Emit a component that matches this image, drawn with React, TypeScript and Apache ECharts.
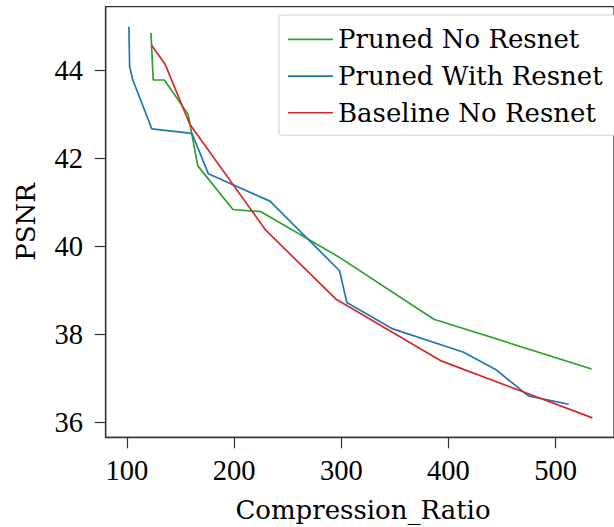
import React, { useEffect, useRef } from "react";
import * as echarts from "echarts";

const seriesNames = ["Pruned No Resnet", "Pruned With Resnet", "Baseline No Resnet"];

const prunedNoResnetX = [122.4, 124.5, 134.9, 157.1, 166.1, 198.9, 225.1, 297.2, 386.4, 533.6];
const prunedNoResnetY = [44.85, 43.78, 43.78, 43.0, 41.83, 40.84, 40.79, 39.77, 38.35, 37.22];

const prunedWithResnetX = [101.8, 102.5, 105.5, 123.2, 160.6, 176.0, 233.4, 298.4, 305.2, 348.0, 414.2, 444.0, 474.5, 512.2];
const prunedWithResnetY = [44.99, 44.08, 43.78, 42.67, 42.57, 41.65, 41.03, 39.45, 38.73, 38.13, 37.6, 37.21, 36.61, 36.42];

const baselineNoResnetX = [123.0, 135.6, 158.5, 229.5, 294.8, 392.5, 534.3];
const baselineNoResnetY = [44.57, 44.14, 42.78, 40.37, 38.81, 37.41, 36.11];

const xTicks = [100, 200, 300, 400, 500];
const yTicks = [36, 38, 40, 42, 44];

const colors = ["#2ca02c", "#1f77b4", "#d62728"];

function zip(xs: number[], ys: number[]) {
  return xs.map((x, i) => [x, ys[i]]);
}

export default function App() {
  const ref = useRef<HTMLDivElement>(null);
  useEffect(() => {
    if (!ref.current) return;
    const chart = echarts.init(ref.current, null, { renderer: "svg" });
    const tickFont = "'Liberation Serif', 'Times New Roman', serif";
    const textFont = "'DejaVu Serif', serif";
    const axisColor = "#333";
    const dataSets = [
      zip(prunedNoResnetX, prunedNoResnetY),
      zip(prunedWithResnetX, prunedWithResnetY),
      zip(baselineNoResnetX, baselineNoResnetY),
    ];
    chart.setOption({
      animation: false,
      backgroundColor: "#ffffff",
      grid: {
        left: 105.7,
        right: -8,
        top: 6.7,
        bottom: 89.7,
        show: true,
        borderColor: axisColor,
        borderWidth: 1.3,
        backgroundColor: "transparent",
      },
      xAxis: {
        type: "value",
        min: 80.16,
        max: 554.5,
        splitLine: { show: false },
        axisLine: { show: true, lineStyle: { color: axisColor, width: 1.3 } },
        axisTick: {
          show: true,
          inside: false,
          length: 11,
          customValues: xTicks,
          lineStyle: { color: axisColor, width: 1.2 },
        },
        axisLabel: {
          customValues: xTicks,
          margin: 19,
          fontFamily: tickFont,
          fontSize: 28.5,
          color: "#000",
        },
      },
      yAxis: {
        type: "value",
        min: 35.669,
        max: 45.444,
        splitLine: { show: false },
        axisLine: { show: true, lineStyle: { color: axisColor, width: 1.3 } },
        axisTick: {
          show: true,
          inside: false,
          length: 11,
          customValues: yTicks,
          lineStyle: { color: axisColor, width: 1.2 },
        },
        axisLabel: {
          customValues: yTicks,
          margin: 22.7,
          fontFamily: tickFont,
          fontSize: 28.5,
          color: "#000",
        },
      },
      legend: {
        orient: "vertical",
        left: 279,
        top: 15,
        padding: [6, 18, 4, 9],
        itemGap: 0,
        itemWidth: 45,
        itemHeight: 1.7,
        icon: "rect",
        borderColor: "#cccccc",
        borderWidth: 1,
        borderRadius: 2,
        backgroundColor: "#ffffff",
        textStyle: {
          fontFamily: textFont,
          fontSize: 26,
          color: "#000",
          lineHeight: 36.7,
          padding: [0, 0, 0, 0],
        },
        data: seriesNames,
      },
      graphic: [
        {
          type: "text",
          style: {
            text: "Compression_Ratio",
            x: 363,
            y: 510.3,
            align: "center",
            verticalAlign: "middle",
            fontFamily: textFont,
            fontSize: 26,
            fill: "#000",
          },
        },
        {
          type: "text",
          x: 26,
          y: 222,
          rotation: Math.PI / 2,
          style: {
            text: "PSNR",
            x: 0,
            y: 0,
            align: "center",
            verticalAlign: "middle",
            fontFamily: textFont,
            fontSize: 26,
            fill: "#000",
          },
        },
      ],
      series: seriesNames.map((name, i) => ({
        name,
        type: "line",
        data: dataSets[i],
        showSymbol: false,
        symbol: "none",
        lineStyle: { color: colors[i], width: 1.7 },
        itemStyle: { color: colors[i] },
      })),
    });
    return () => chart.dispose();
  }, []);
  return <div ref={ref} style={{ width: 614, height: 527, position: "absolute", left: 0, top: 0 }} />;
}
